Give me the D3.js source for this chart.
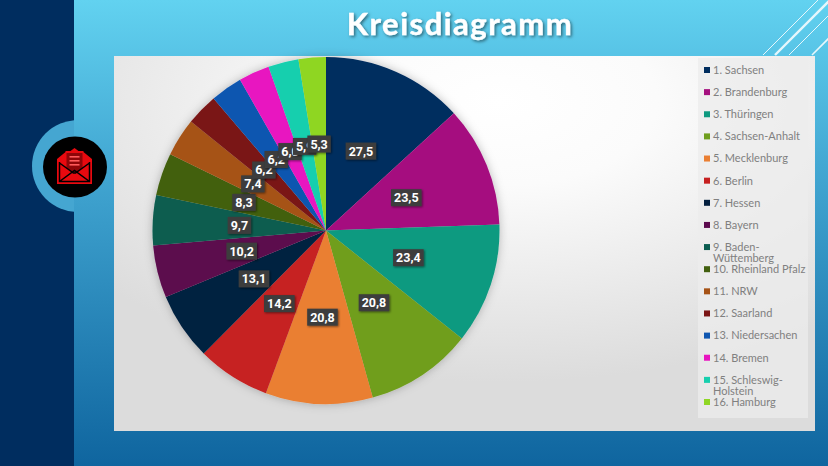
<!DOCTYPE html>
<html>
<head>
<meta charset="utf-8">
<script src="https://cdn.jsdelivr.net/npm/d3@7"></script>
<style>
  html, body { margin: 0; padding: 0; background: #1a6ea6; }
  svg { display: block; }
</style>
</head>
<body>
<div id="container"></div>
<script>
const categories = ['1. Sachsen', '2. Brandenburg', '3. Thüringen', '4. Sachsen-Anhalt', '5. Mecklenburg', '6. Berlin',
  '7. Hessen', '8. Bayern', '9. Baden-Wüttemberg', '10. Rheinland Pfalz', '11. NRW', '12. Saarland',
  '13. Niedersachen', '14. Bremen', '15. Schleswig-Holstein', '16. Hamburg'];
const values = [27.5, 23.5, 23.4, 20.8, 20.8, 14.2, 13.1, 10.2, 9.7, 8.3, 7.4, 6.2, 6.2, 6.0, 5.9, 5.3];
const colors = ['#002d5e', '#a5107f', '#0f9a80', '#6f9e1d', '#ea7f33', '#c62020', '#04203f', '#5c0a4e',
  '#0b5d50', '#42600f', '#a65316', '#7a1414', '#0f56b0', '#e815c0', '#17cfae', '#8fd624'];
const title = 'Kreisdiagramm';

const width = 828;
const height = 466;
const cx = 326;
const cy = 230.5;
const radius = 173.5;
const fontFamily = 'Lato, "Open Sans", sans-serif';

const svg = d3.select('#container')
  .append('svg')
  .attr('width', width)
  .attr('height', height);

const defs = svg.append('defs');

// Gradients
const bg = defs.append('linearGradient')
  .attr('id', 'bg')
  .attr('x1', 0).attr('y1', 0)
  .attr('x2', 0).attr('y2', 1);
[[0, '#62d2f0'], [0.35, '#43a8d3'], [1, '#0f659f']].forEach(s => {
  bg.append('stop').attr('offset', s[0]).attr('stop-color', s[1]);
});

const panel = defs.append('radialGradient')
  .attr('id', 'panel')
  .attr('cx', 0.55).attr('cy', 0.12).attr('r', 0.75);
[[0, '#ffffff'], [0.3, '#fbfbfb'], [1, '#dcdcdc']].forEach(s => {
  panel.append('stop').attr('offset', s[0]).attr('stop-color', s[1]);
});

const pieShadow = defs.append('filter').attr('id', 'pieShadow')
  .attr('x', '-20%').attr('y', '-20%').attr('width', '140%').attr('height', '140%');
pieShadow.append('feDropShadow')
  .attr('dx', 0).attr('dy', 0).attr('stdDeviation', 5)
  .attr('flood-color', '#000').attr('flood-opacity', 0.25);

const textShadow = defs.append('filter').attr('id', 'textShadow')
  .attr('x', '-10%').attr('y', '-30%').attr('width', '120%').attr('height', '170%');
textShadow.append('feDropShadow')
  .attr('dx', 1.5).attr('dy', 1.5).attr('stdDeviation', 1.5)
  .attr('flood-color', '#000').attr('flood-opacity', 0.5);

const boxShadow = defs.append('filter').attr('id', 'boxShadow')
  .attr('x', '-30%').attr('y', '-30%').attr('width', '170%').attr('height', '170%');
boxShadow.append('feDropShadow')
  .attr('dx', 1).attr('dy', 1).attr('stdDeviation', 1.2)
  .attr('flood-color', '#000').attr('flood-opacity', 0.5);

defs.append('clipPath').attr('id', 'ringClip')
  .append('rect').attr('width', 74).attr('height', height);

// Slide background
svg.append('rect').attr('width', width).attr('height', height).attr('fill', 'url(#bg)');
svg.append('rect').attr('width', 74).attr('height', height).attr('fill', '#002d5f');

// Corner stripes
const stripes = [[763, 55, 818, 0, 1], [775, 55, 830, 0, 2.4], [789, 55, 830, 14, 1], [812, 55, 830, 37, 1.6]];
svg.selectAll('.stripe')
  .data(stripes)
  .enter()
  .append('line')
  .attr('class', 'stripe')
  .attr('x1', d => d[0]).attr('y1', d => d[1])
  .attr('x2', d => d[2]).attr('y2', d => d[3])
  .attr('stroke', '#e6f7fc')
  .attr('stroke-width', d => d[4]);

// Icon badge
svg.append('circle')
  .attr('cx', 78).attr('cy', 166).attr('r', 46)
  .attr('fill', '#45a6d1')
  .attr('clip-path', 'url(#ringClip)');
svg.append('ellipse')
  .attr('cx', 75).attr('cy', 167)
  .attr('rx', 32).attr('ry', 30.5)
  .attr('fill', '#000');
const icon = svg.append('g').attr('transform', 'translate(74.5,166)');
icon.append('path')
  .attr('d', 'M-17.5,-7 L-9,-14 L-9,-15 L-4,-15 L0,-18 L4,-15 L9,-15 L9,-14 L17.5,-7 L17.5,18 L-17.5,18 Z')
  .attr('fill', '#e8090f');
icon.append('path')
  .attr('d', 'M-8,-13 H8 V2 L0,7 L-8,2 Z')
  .attr('fill', '#8f0508');
icon.selectAll('.note')
  .data([-10, -6, -2])
  .enter()
  .append('rect')
  .attr('class', 'note')
  .attr('x', -5).attr('y', d => d).attr('width', 10).attr('height', 1.6)
  .attr('fill', '#ff5a5a');
icon.append('path')
  .attr('d', 'M-15,-3 L-1,7 L1,7 L15,-3 M-15,15.5 L0,4.5 L15,15.5 M-15,-4 V15.5 H15 V-4')
  .attr('fill', 'none')
  .attr('stroke', '#000')
  .attr('stroke-width', 1.5);

// Title
svg.append('text')
  .attr('x', 460)
  .attr('y', 35)
  .attr('text-anchor', 'middle')
  .attr('font-family', fontFamily)
  .attr('font-weight', 700)
  .attr('font-size', 31)
  .attr('letter-spacing', 1.5)
  .attr('fill', '#fff')
  .attr('stroke', '#fff')
  .attr('stroke-width', 0.4)
  .attr('filter', 'url(#textShadow)')
  .text(title);

// Chart panel
svg.append('rect')
  .attr('x', 114).attr('y', 56)
  .attr('width', 701).attr('height', 375)
  .attr('fill', 'url(#panel)');
svg.append('rect')
  .attr('x', 698).attr('y', 58)
  .attr('width', 110).attr('height', 360)
  .attr('fill', '#ececec')
  .attr('opacity', 0.75);

// Pie
const pie = d3.pie().sort(null).value(d => d);
const arcs = pie(values);
const arc = d3.arc().innerRadius(0).outerRadius(radius);

const chart = svg.append('g').attr('transform', `translate(${cx}, ${cy})`);

chart.append('g')
  .attr('filter', 'url(#pieShadow)')
  .selectAll('path')
  .data(arcs)
  .enter()
  .append('path')
  .attr('d', arc)
  .attr('fill', (d, i) => colors[i]);

// Value labels, later ones sit over earlier ones
const formatValue = v => d3.format('.1f')(v).replace('.', ',');
const labels = chart.selectAll('.label')
  .data(arcs)
  .enter()
  .append('g')
  .attr('class', 'label')
  .attr('transform', d => `translate(${arc.centroid(d)})`);

labels.each(function(d) {
  const g = d3.select(this);
  const box = g.append('rect')
    .attr('fill', '#3d3d3d')
    .attr('filter', 'url(#boxShadow)');
  const text = g.append('text')
    .attr('text-anchor', 'middle')
    .attr('dy', '0.36em')
    .attr('font-family', 'Roboto, sans-serif')
    .attr('font-weight', 700)
    .attr('font-size', 12.5)
    .attr('fill', '#fff')
    .text(formatValue(d.data));
  const w = text.node().getComputedTextLength() + 6;
  box.attr('x', -w / 2).attr('y', -8.5).attr('width', w).attr('height', 17);
});

// Legend
const legendY = d3.scalePoint().domain(categories).range([70, 402]);
const legend = svg.selectAll('.legend')
  .data(categories)
  .enter()
  .append('g')
  .attr('class', 'legend')
  .attr('transform', d => `translate(704, ${legendY(d)})`);

legend.append('rect')
  .attr('y', -3).attr('width', 6).attr('height', 6)
  .attr('fill', (d, i) => colors[i]);

legend.append('text')
  .attr('x', 9)
  .attr('dy', '0.35em')
  .attr('font-family', fontFamily)
  .attr('font-size', 11)
  .attr('fill', '#808080')
  .each(function(d) {
    const text = d3.select(this).text(d);
    // Long names break after the hyphen
    if (this.getComputedTextLength() > 96 && d.includes('-')) {
      const cut = d.indexOf('-') + 1;
      text.text(d.slice(0, cut));
      text.append('tspan').attr('x', 9).attr('dy', 11).text(d.slice(cut));
    }
  });
</script>
</body>
</html>
